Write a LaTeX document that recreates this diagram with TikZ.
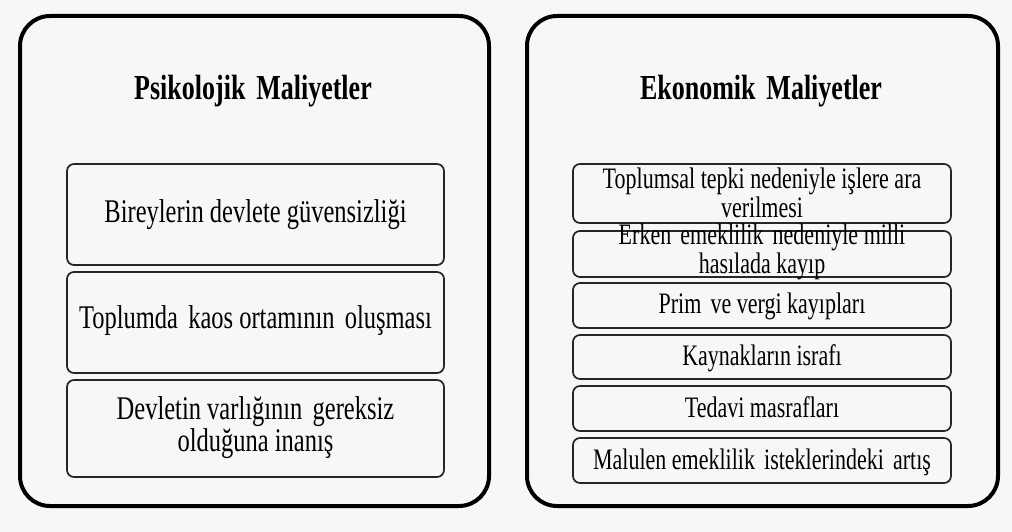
\documentclass[tikz,border=0pt]{standalone}
\usepackage{fontspec}
\setmainfont{Liberation Serif}
\newcommand\ys[1]{\scalebox{1}[1.35]{#1}}
\begin{document}
\begin{tikzpicture}[x=1pt,y=-1pt,
  outerbox/.style={draw=black, line width=4pt, rounded corners=30pt, inner sep=0pt, outer sep=0pt},
  innerbox/.style={draw=black!85, line width=1.7pt, rounded corners=7pt, inner sep=0pt, outer sep=0pt},
  ttl/.style={anchor=base, inner sep=0pt, font=\fontsize{26}{30}\selectfont\bfseries},
  ltxt/.style={anchor=base, inner sep=0pt, align=center, font=\fontsize{24.5}{30}\selectfont},
  rtxt/.style={anchor=base, inner sep=0pt, align=center, font=\fontsize{22}{29}\selectfont},
]
\fill[white!97!black] (0,0) rectangle (1012,532);
\useasboundingbox (0,0) rectangle (1012,532);
% outer frames
\node[outerbox, minimum width=469pt, minimum height=490pt] (L) at (254.5,261) {};
\node[outerbox, minimum width=471pt, minimum height=490pt] (R) at (762.5,261) {};
% titles
\node[ttl] (Lt) at (253,100) {\ys{Psikolojik\, Maliyetler}};
\node[ttl] (Rt) at (761,100) {\ys{Ekonomik\, Maliyetler}};
% left boxes
\node[innerbox, minimum width=377pt, minimum height=101pt] (L1) at (255.5,214.5) {};
\node[innerbox, minimum width=377pt, minimum height=101pt] (L2) at (255.5,322.5) {};
\node[innerbox, minimum width=377pt, minimum height=97pt] (L3) at (255.5,428.5) {};
\node[ltxt] (L1t) at (255.5,222) {\ys{Bireylerin devlete güvensizliği}};
\node[ltxt] (L2t) at (255.5,328) {\ys{Toplumda\, kaos ortamının\, oluşması}};
\node[ltxt] (L3t) at (255.5,451) {\ys{Devletin varlığının\, gereksiz}\\\ys{olduğuna inanış}};
% right boxes
\node[innerbox, minimum width=378pt, minimum height=59pt] (R1) at (762,193.5) {};
\node[innerbox, minimum width=378pt, minimum height=46pt] (R2) at (762,254) {};
\node[innerbox, minimum width=378pt, minimum height=45pt] (R3) at (762,305.5) {};
\node[innerbox, minimum width=378pt, minimum height=44pt] (R4) at (762,357) {};
\node[innerbox, minimum width=378pt, minimum height=45pt] (R5) at (762,408.5) {};
\node[innerbox, minimum width=378pt, minimum height=45pt] (R6) at (762,460.5) {};
\node[rtxt] (R1t) at (762,217) {\ys{Toplumsal tepki nedeniyle işlere ara}\\\ys{verilmesi}};
\node[rtxt] (R2t) at (762,273) {\ys{Erken\, emeklilik\, nedeniyle milli}\\\ys{hasılada kayıp}};
\node[rtxt] (R3t) at (762,313) {\ys{Prim\, ve vergi kayıpları}};
\node[rtxt] (R4t) at (762,365) {\ys{Kaynakların israfı}};
\node[rtxt] (R5t) at (762,417) {\ys{Tedavi masrafları}};
\node[rtxt] (R6t) at (762,469) {\ys{Malulen emeklilik\, isteklerindeki\, artış}};
\end{tikzpicture}
\end{document}
